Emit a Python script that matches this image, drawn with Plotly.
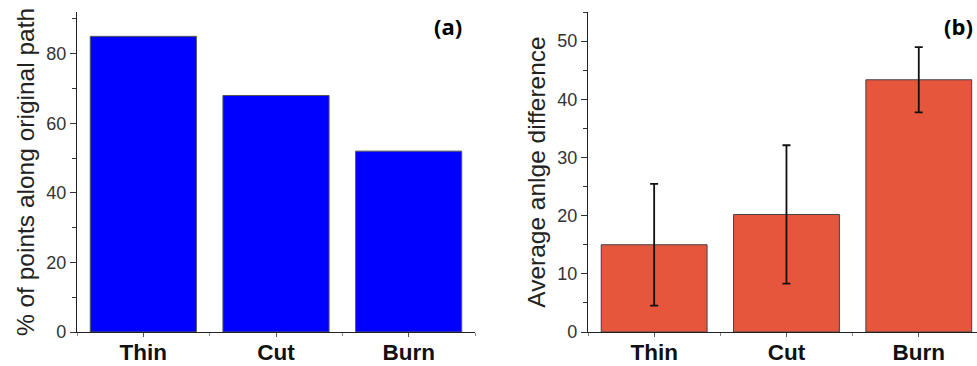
import plotly.graph_objects as go

# Categories and measured values
categories = ["Thin", "Cut", "Burn"]
pct_along_path = [85, 68, 52]
angle_diff_mean = [15.0, 20.2, 43.35]
angle_diff_err = [10.45, 11.9, 5.6]

W, H = 977, 366
positions = [1, 2, 3]

fig = go.Figure()

fig.add_trace(go.Bar(
    x=positions, y=pct_along_path, width=0.8,
    marker=dict(color="#0000FF", line=dict(color="#555555", width=1)),
    xaxis="x", yaxis="y", showlegend=False,
))

fig.add_trace(go.Bar(
    x=positions, y=angle_diff_mean, width=0.8,
    marker=dict(color="#E5563D", line=dict(color="#444444", width=1)),
    error_y=dict(type="data", array=angle_diff_err, visible=True,
                 color="#111111", thickness=1.8, width=4),
    xaxis="x2", yaxis="y2", showlegend=False,
))

def px_x(v):
    return v / W

def px_y(v):
    return 1 - v / H

tick_font = dict(family="Liberation Sans, Arial", size=18, color="#333333")
cat_font = dict(family="Liberation Sans, Arial", size=22.5, color="#111111")
title_font = dict(family="Liberation Sans, Arial", size=24.5, color="#222222")

xcommon = dict(
    tickmode="array", tickvals=positions,
    ticktext=[f"<b>{c}</b>" for c in categories],
    tickfont=cat_font, ticks="outside", ticklen=4, tickwidth=1,
    tickcolor="#555555", ticklabelstandoff=-4,
    showline=True, linecolor="#222222", linewidth=1.2,
    showgrid=False, zeroline=False, automargin=False,
    minor=dict(tickmode="linear", tick0=0.5, dtick=1, ticks="outside",
               ticklen=3, tickcolor="#888888"),
)
ycommon = dict(
    ticks="outside", ticklen=6, tickwidth=1, tickcolor="#333333",
    tickfont=tick_font,
    showline=True, linecolor="#222222", linewidth=1.2,
    showgrid=False, zeroline=False, automargin=False,
    title_font=title_font, title_standoff=4,
)

fig.update_layout(
    width=W, height=H,
    margin=dict(l=0, r=0, t=0, b=0),
    paper_bgcolor="white", plot_bgcolor="white",
    bargap=0.2,
    xaxis=dict(domain=[px_x(77), px_x(475)], range=[0.5, 3.5], anchor="y",
               **xcommon),
    yaxis=dict(domain=[px_y(332), px_y(12)], range=[0, 92], anchor="x",
               dtick=20, minor=dict(dtick=10, ticks="outside", ticklen=4,
                                    tickcolor="#333333"),
               title_text="% of points along original path", **ycommon),
    xaxis2=dict(domain=[px_x(588), 1.0], range=[0.5, 3.44], anchor="y2",
                **xcommon),
    yaxis2=dict(domain=[px_y(332), px_y(12)], range=[0, 55], anchor="x2",
                dtick=10, minor=dict(dtick=5, ticks="outside", ticklen=4,
                                     tickcolor="#333333"),
                title_text="Average anlge difference", **ycommon),
    annotations=[
        dict(text="<b>(a)</b>", x=px_x(464), y=px_y(26), xref="paper",
             yref="paper", xanchor="right", yanchor="middle", showarrow=False,
             font=dict(family="Open Sans, Lato", size=22, color="#000000")),
        dict(text="<b>(b)</b>", x=px_x(975), y=px_y(26), xref="paper",
             yref="paper", xanchor="right", yanchor="middle", showarrow=False,
             font=dict(family="Open Sans, Lato", size=22, color="#000000")),
    ],
)

fig.write_html("out.html")
